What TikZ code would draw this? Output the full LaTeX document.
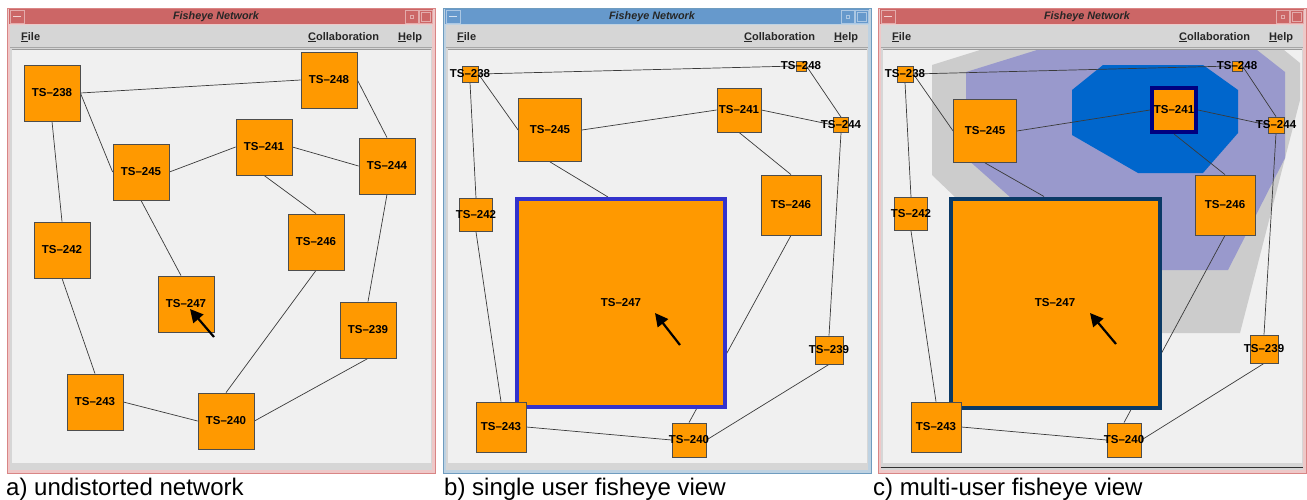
\documentclass[tikz,border=0pt]{standalone}
\usepackage{fontspec}
\setmainfont{Liberation Sans}
\usetikzlibrary{arrows.meta}

\definecolor{tsorange}{HTML}{FF9900}
\definecolor{boxgray}{HTML}{4D4D4D}
\definecolor{linegray}{HTML}{3A3A3A}
\definecolor{panelbg}{HTML}{F0F0F0}
\definecolor{menugray}{HTML}{D6D6D6}
\definecolor{titlered}{HTML}{CC6666}
\definecolor{framered}{HTML}{D98585}
\definecolor{titleblue}{HTML}{6699CC}
\definecolor{frameblue}{HTML}{6F9CBF}
\definecolor{selblue}{HTML}{3333CC}
\definecolor{selnavy}{HTML}{0B3A66}
\definecolor{focusnavy}{HTML}{000080}
\definecolor{blobgray}{HTML}{CCCCCC}
\definecolor{bloblav}{HTML}{9999CC}
\definecolor{blobblue}{HTML}{0066CC}

\pgfdeclarelayer{bg}
\pgfdeclarelayer{edges}
\pgfsetlayers{bg,edges,main}

\tikzset{
  ts/.style={draw=boxgray, fill=tsorange, line width=0.8pt, inner sep=0pt,
    minimum size=#1, font=\bfseries\fontsize{11.5}{12}\selectfont},
  link/.style={draw=linegray, line width=0.7pt},
  cursor/.style={line width=2.2pt, -{Triangle[length=13pt,width=13pt]}},
  titletext/.style={font=\bfseries\itshape\fontsize{10.8}{12}\selectfont, text=black!85},
  menutext/.style={font=\bfseries\fontsize{11}{13}\selectfont, text=black!85, anchor=base west, inner sep=0pt},
  caption/.style={font=\fontsize{24}{28}\selectfont, anchor=base west, inner sep=0pt}
}
\newcommand{\tsl}[1]{\makebox[0pt]{TS–#1}}

\begin{document}
\begin{tikzpicture}[x=1pt, y=-1pt]
    \useasboundingbox (0,0) rectangle (1307,499);

    % window frames
    \begin{pgfonlayer}{bg}
    \foreach \ox/\tc/\fc in {7/titlered/framered, 443/titleblue/frameblue, 878/titlered/framered} {
        \fill[\fc!45!white] (\ox,8) rectangle (\ox+428,473);
        \draw[\fc, line width=1pt] (\ox,8) rectangle (\ox+428,473);
        \fill[\tc] (\ox+2,9) rectangle (\ox+426,24);
        \draw[\tc!55!white, fill=\tc] (\ox+3,10) rectangle (\ox+17,23);
        \draw[white!70!\tc, line width=1pt] (\ox+6,16.5) -- (\ox+14,16.5);
        \draw[\tc!55!white, fill=\tc] (\ox+398,10) rectangle (\ox+411,23);
        \draw[\tc!55!white] (\ox+403,15) rectangle (\ox+406,18);
        \draw[\tc!55!white, fill=\tc] (\ox+412,10) rectangle (\ox+425,23);
        \draw[\tc!55!white] (\ox+414,12) rectangle (\ox+423,21);
        \node[titletext] (ttl\ox) at (\ox+209,17) {Fisheye Network};
        \fill[menugray] (\ox+3,25) rectangle (\ox+425,470);
        \draw[black!35] (\ox+3,47.5) -- (\ox+425,47.5);
        \fill[panelbg] (\ox+5,49) rectangle (\ox+424,463);
        \draw[black!40] (\ox+5,49) -- (\ox+424,49);
        \node[menutext] (fil\ox) at (\ox+14,40) {\underline{F}ile};
        \node[menutext] (col\ox) at (\ox+301,40) {\underline{C}ollaboration};
        \node[menutext] (hlp\ox) at (\ox+391,40) {\underline{H}elp};
    }
    \draw[black!80, line width=1pt] (881,467) -- (1303,467);

    % interest regions
    \fill[blobgray] (932,65) -- (980,50) -- (1284,50) -- (1300,63) -- (1300,100)
        -- (1240,333) -- (1000,333) -- (955,197) -- (932,175) -- cycle;
    \fill[bloblav] (966,72) -- (1037,50) -- (1257,50) -- (1285,72) -- (1285,158)
        -- (1228,270) -- (1150,270) -- (1010,220) -- (1010,197) -- (966,158) -- cycle;
    \fill[blobblue] (1103,65) -- (1203,65) -- (1238,90) -- (1238,133) -- (1203,173)
        -- (1138,173) -- (1072,135) -- (1072,90) -- cycle;
    \end{pgfonlayer}

    % a) undistorted
    \node[ts=56pt] (a238) at (52,93) {\tsl{238}};
    \node[ts=56pt] (a248) at (329,80) {\tsl{248}};
    \node[ts=56pt] (a241) at (264,147) {\tsl{241}};
    \node[ts=56pt] (a245) at (141,172) {\tsl{245}};
    \node[ts=56pt] (a244) at (387,166) {\tsl{244}};
    \node[ts=56pt] (a242) at (62,250) {\tsl{242}};
    \node[ts=56pt] (a246) at (316,242) {\tsl{246}};
    \node[ts=56pt] (a247) at (186,304) {\tsl{247}};
    \node[ts=56pt] (a239) at (368,330) {\tsl{239}};
    \node[ts=56pt] (a243) at (95,402) {\tsl{243}};
    \node[ts=56pt] (a240) at (226,421) {\tsl{240}};
    \coordinate (a247in) at ([xshift=-5pt]a247.north);
    \draw[cursor] (214,337) -- (190,309);

    % b) single user
    \node[ts=16pt] (b238) at (470,74) {\tsl{238}};
    \node[ts=10pt] (b248) at (801,66) {\tsl{248}};
    \node[ts=44pt] (b241) at (739,110) {\tsl{241}};
    \node[ts=63pt] (b245) at (550,130) {\tsl{245}};
    \node[ts=15pt] (b244) at (841,125) {\tsl{244}};
    \node[ts=60pt] (b246) at (791,205) {\tsl{246}};
    \node[ts=33pt] (b242) at (476,215) {\tsl{242}};
    \node[ts=208pt, draw=selblue, line width=4pt] (b247) at (621,303) {\tsl{247}};
    \node[ts=28pt] (b239) at (829,350) {\tsl{239}};
    \node[ts=50pt] (b243) at (501,427) {\tsl{243}};
    \node[ts=34pt] (b240) at (689,440) {\tsl{240}};
    \coordinate (b247in) at ([xshift=-13pt]b247.north);
    \draw[cursor] (680,345) -- (655,313);

    % c) multi-user
    \node[ts=16pt] (c238) at (905,74) {\tsl{238}};
    \node[ts=10pt] (c248) at (1237,66) {\tsl{248}};
    \node[ts=44pt, draw=focusnavy, line width=4pt] (c241) at (1174,110) {\tsl{241}};
    \node[ts=63pt] (c245) at (985,131) {\tsl{245}};
    \node[ts=16pt] (c244) at (1276,125) {\tsl{244}};
    \node[ts=60pt] (c246) at (1225,205) {\tsl{246}};
    \node[ts=33pt] (c242) at (911,214) {\tsl{242}};
    \node[ts=209pt, draw=selnavy, line width=4pt] (c247) at (1055,303) {\tsl{247}};
    \node[ts=28pt] (c239) at (1264,349) {\tsl{239}};
    \node[ts=50pt] (c243) at (936,427) {\tsl{243}};
    \node[ts=34pt] (c240) at (1124,440) {\tsl{240}};
    \coordinate (c247in) at ([xshift=-11pt]c247.north);
    \draw[cursor] (1116,344) -- (1090,313);

    % links, same graph in every view, side to side
    \begin{pgfonlayer}{edges}
    \foreach \p in {a,b,c}
        \foreach \u/\ua/\v/\va in {238/east/248/west, 238/east/245/west, 238/south/242/north,
                                   248/east/244/north, 245/east/241/west, 241/east/244/west,
                                   241/south/246/north, 245/south/247in/center, 244/south/239/north,
                                   242/south/243/north, 243/east/240/west, 246/south/240/north,
                                   239/south/240/east}
            \draw[link] (\p\u.\ua) -- (\p\v.\va);
    \end{pgfonlayer}

    \node[caption] (capa) at (6,495) {a) undistorted network};
    \node[caption] (capb) at (444,495) {b) single user fisheye view};
    \node[caption] (capc) at (873,495) {c) multi-user fisheye view};
\end{tikzpicture}
\end{document}
